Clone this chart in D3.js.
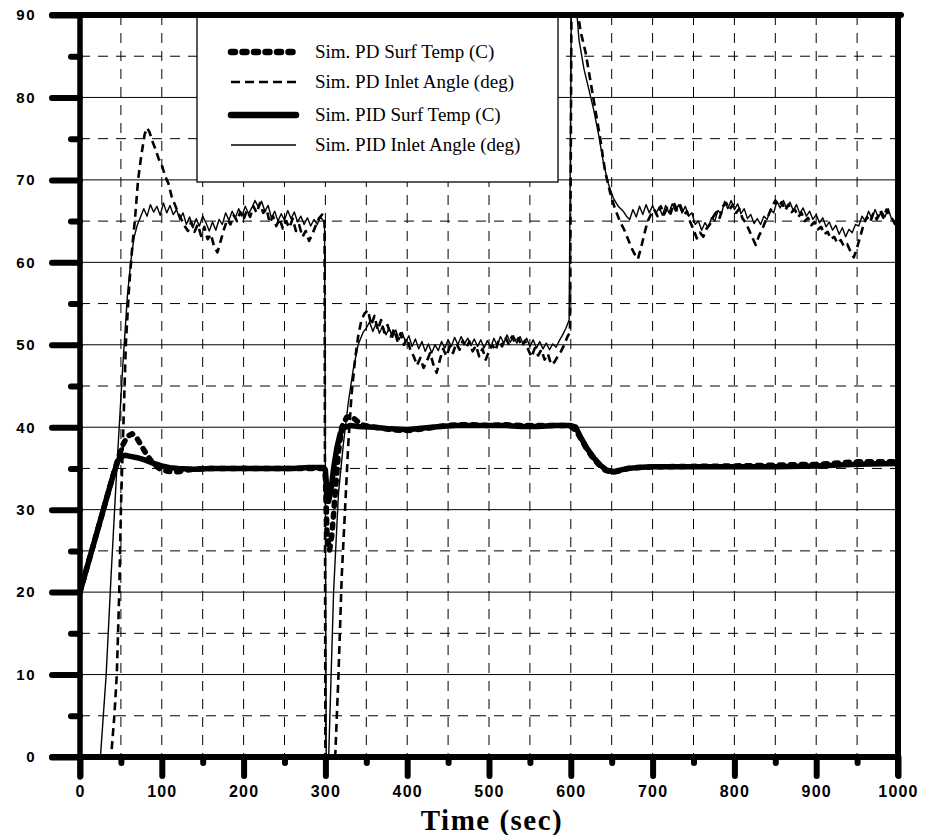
<!DOCTYPE html>
<html><head><meta charset="utf-8">
<script src="https://cdn.jsdelivr.net/npm/d3@7"></script>
<style>
html,body{margin:0;padding:0;background:#fff;}
svg{display:block;}
</style></head>
<body>
<svg id="chart" width="940" height="835"></svg>
<script>
// ---------------- DATA ----------------
const xTicksMajor = [0,100,200,300,400,500,600,700,800,900,1000];
const xTicksMinor = [50,150,250,350,450,550,650,750,850,950];
const yTicksMajor = [0,10,20,30,40,50,60,70,80,90];
const yTicksMinor = [5,15,25,35,45,55,65,75,85];
const xTitle = "Time (sec)";
const legendLabels = ["Sim. PD Surf Temp (C)","Sim. PD Inlet Angle (deg)","Sim. PID Surf Temp (C)","Sim. PID Inlet Angle (deg)"];

// PID surface temperature (thick solid)
const pidSurfT = [0,10,20,30,40,46,50,55,60,70,80,90,100,110,120,140,160,180,200,220,240,260,280,298,300,302,304,307,310,314,318,322,330,340,360,380,400,420,440,460,480,500,520,540,560,580,600,606,612,620,628,636,644,652,660,670,680,700,750,800,850,900,950,1000];
const pidSurfV = [20,23.5,27,30.5,34,35.8,36.4,36.6,36.5,36.3,36.0,35.6,35.3,35.1,35.0,34.9,35.0,35.0,35.0,35.0,35.0,35.0,35.1,35.1,34.8,32,31,32.5,35,37.5,39.2,39.9,40.2,40.1,40.0,39.8,39.7,39.9,40.1,40.2,40.2,40.2,40.2,40.1,40.1,40.2,40.2,40.0,38.8,37.4,36.3,35.4,34.8,34.6,34.8,35.0,35.1,35.2,35.2,35.2,35.2,35.3,35.5,35.6];

// PD surface temperature (thick dashed)
const pdSurfT = [0,10,20,30,40,46,52,58,64,70,76,82,88,94,100,106,112,120,130,140,160,200,250,298,300,302,305,308,312,316,320,326,332,338,344,360,380,400,420,440,460,480,500,520,540,560,580,598,604,610,618,626,634,642,650,660,670,700,800,900,950,1000];
const pdSurfV = [20,23.5,27,30.5,34,36,37.8,38.9,39.2,38.6,37.6,36.6,35.8,35.2,34.8,34.7,34.6,34.6,34.8,34.9,35.0,35.0,35.0,35.0,34,27,25,27,32,37,40,41.2,41.3,40.8,40.3,40.0,39.7,39.6,39.8,40.1,40.3,40.3,40.2,40.3,40.2,40.2,40.2,40.2,39.8,39,37.6,36.4,35.5,34.8,34.5,34.7,35.0,35.2,35.3,35.5,35.8,35.8];

// PID inlet angle (thin solid)
const pidInletT = [0,25,32,38,45,52,58,62,66,70,74,
 78,82,86,90,94,98,102,106,110,114,118,122,126,130,134,138,142,146,150,154,158,162,166,170,174,178,182,186,190,194,198,202,206,210,214,218,222,226,230,234,238,242,246,250,254,258,262,266,270,274,278,282,286,290,294,298,
 299,301,304,310,316,322,328,334,340,346,
 350,354,358,362,366,370,374,378,382,386,390,394,398,402,406,410,414,418,422,426,430,434,438,442,446,450,454,458,462,466,470,474,478,482,486,490,494,498,502,506,510,514,518,522,526,530,534,538,542,546,550,554,558,562,566,570,574,578,582,586,590,594,598,
 601,606,610,616,622,628,634,640,646,652,658,664,668,
 672,676,680,684,688,692,696,700,704,708,712,716,720,724,728,732,736,740,744,748,752,756,760,764,768,772,776,780,784,788,792,796,800,804,808,812,816,820,824,828,832,836,840,844,848,852,856,860,864,868,872,876,880,884,888,892,896,900,904,908,912,916,920,924,928,932,936,940,944,948,952,956,960,964,968,972,976,980,984,988,992,996,1000];
const pidInletV = [0,0,10,22,35,47,56,60,63,64.5,65.5,
 66.5,65.6,67.0,66.1,66.8,65.7,67.2,66.0,66.9,65.8,66.4,65.2,66.0,64.6,65.5,64.2,65.3,64.4,65.6,64.8,63.8,64.9,63.9,65.2,64.6,66.0,65.1,66.2,65.4,66.5,65.6,66.8,65.9,66.6,67.5,66.7,67.4,66.2,66.9,65.4,66.2,65.0,65.9,65.1,66.3,65.3,66.1,64.9,65.6,64.6,65.4,64.4,65.2,64.6,65.5,65.0,
 64.5,0,0,20,32,38,43,47,50,51.5,
 52.0,52.8,51.6,52.6,51.4,52.3,51.2,52.0,50.9,51.8,50.6,51.5,50.3,51.1,49.8,50.7,49.5,50.4,49.2,50.1,49.0,50.0,49.3,50.4,49.6,50.6,49.8,50.9,50.0,51.0,50.1,50.8,49.9,50.7,49.8,50.6,49.6,50.5,49.7,50.8,49.9,51.0,50.2,51.2,50.3,51.1,50.2,51.0,50.0,50.8,49.8,50.6,49.6,50.4,49.5,50.2,49.4,50.1,49.7,50.5,51.2,52.0,53.0,
 95,92,87,83.5,81,78.5,75.5,72,69.5,67.8,66.8,66.2,65.6,
 65.2,66.4,65.5,66.8,65.8,67.0,66.0,66.9,65.9,66.7,65.7,66.9,66.0,67.1,66.2,67.0,66.0,66.8,65.6,66.0,64.6,65.0,63.9,64.8,64.2,65.4,65.0,66.3,65.8,67.4,66.5,67.5,66.4,67.1,65.9,66.5,65.3,65.8,64.7,65.3,64.6,65.6,65.2,66.4,66.0,67.4,66.6,67.5,66.5,67.3,66.3,67.0,65.9,66.6,65.6,66.2,65.2,65.8,64.8,65.4,64.3,64.9,63.9,64.5,63.4,64.2,63.1,64.0,63.6,64.6,64.4,65.6,65.0,66.2,65.3,66.4,65.4,66.2,65.5,66.5,65.3,65.0,64.0];

// PD inlet angle (thin dashed)
const pdInletT = [0,38,42,45,48,50,53,56,60,64,67,71,75,79,82,85,88,92,96,100,104,108,112,116,120,124,128,132,136,140,144,148,152,156,160,164,168,172,176,180,184,188,192,196,200,204,208,212,216,220,224,228,232,236,240,244,248,252,256,260,264,268,272,276,280,284,288,292,296,299,
 300,312,316,320,324,328,332,336,340,344,348,352,356,360,364,368,372,376,380,384,388,392,396,400,404,408,412,416,420,424,428,432,436,440,444,448,452,456,460,464,468,472,476,480,484,488,492,496,500,504,508,512,516,520,524,528,532,536,540,544,548,552,556,560,564,568,572,576,580,584,588,592,596,599,
 601,606,612,618,624,630,636,642,648,654,660,666,670,674,678,682,686,690,694,698,
 702,706,710,714,718,722,726,730,734,738,742,746,750,754,758,762,766,770,774,778,782,786,790,794,798,802,806,810,814,818,822,826,830,834,838,842,846,850,854,858,862,866,870,874,878,882,886,890,894,898,902,906,910,914,918,922,926,930,934,938,942,946,950,954,958,962,966,970,974,978,982,986,990,994,998,1000];
const pdInletV = [0,0,5,10,20,30,40,50,57,62,65,70,73,75.5,76.3,75.8,74.8,73.8,72.6,71.8,70.5,69.6,68,67,66,65.2,64.4,63.8,64.9,63.7,64.6,63.2,64.3,62.8,63.4,61.9,61.2,62.6,64.0,65.2,64.6,65.7,65.0,66.1,65.2,66.3,65.5,66.8,66.0,67.2,66.0,66.5,64.8,65.6,64.4,65.3,64.1,65.0,64.2,65.3,63.8,64.5,63.1,63.8,62.6,63.4,64.4,65.3,65.8,65,
 0,0,10,22,30,38,44,48,51,53,53.8,54.2,52.4,53.5,51.8,53.0,51.5,52.4,51.0,51.9,50.5,51.4,50.0,50.8,49.3,48.6,47.5,48.4,47.2,48.0,49.0,47.6,46.6,48.2,49.5,48.6,49.8,49.0,50.2,49.4,50.5,49.6,50.4,49.2,49.9,48.6,49.5,48.2,49.2,50.0,49.3,50.6,49.8,50.9,50.1,51.0,50.2,50.8,49.8,50.5,49.4,48.5,49.6,48.7,49.4,48.2,48.9,47.6,47.9,48.6,49.2,50.0,51.0,51.5,
 95,92,88,85.5,82,78.5,75,71,68.5,66.5,65,63.8,62.8,61.8,61.0,60.4,61.8,63.5,65.0,65.8,
 66.4,65.6,66.8,65.8,66.6,65.9,67.2,66.3,66.9,65.7,66.2,64.9,64.0,62.9,63.6,63.1,64.1,64.6,65.5,66.1,65.4,66.8,67.2,66.4,67.0,66.0,66.5,65.3,64.8,63.9,63.0,62.1,63.2,64.0,65.0,65.8,66.7,67.5,66.8,67.3,66.3,67.0,66.1,66.4,65.5,66.0,65.0,65.4,64.5,64.9,64.0,64.3,63.4,63.7,62.8,63.1,62.3,62.7,61.9,62.2,61.3,60.6,61.8,63.2,64.6,65.5,64.9,66.0,65.2,66.3,65.4,66.4,65.6,65.1,64.3,64.0];

// ---------------- DRAW ----------------
const svg = d3.select("#chart");
const L = 80, R = 898, T = 15, B = 757;
const x = d3.scaleLinear().domain([0,1000]).range([L,R]);
const y = d3.scaleLinear().domain([0,90]).range([B,T]);

// grid
const grid = svg.append("g");
grid.selectAll(".hmaj").data(yTicksMajor.filter(v=>v>0&&v<90)).join("line")
  .attr("x1",L).attr("x2",R).attr("y1",d=>y(d)).attr("y2",d=>y(d))
  .attr("stroke","#000").attr("stroke-width",1);
grid.selectAll(".hmin").data(yTicksMinor).join("line")
  .attr("x1",L).attr("x2",R).attr("y1",d=>y(d)).attr("y2",d=>y(d))
  .attr("stroke","#000").attr("stroke-width",1).attr("stroke-dasharray","10,8");
grid.selectAll(".v").data(xTicksMajor.concat(xTicksMinor).filter(v=>v>0&&v<1000)).join("line")
  .attr("x1",d=>x(d)).attr("x2",d=>x(d)).attr("y1",T).attr("y2",B)
  .attr("stroke","#000").attr("stroke-width",1).attr("stroke-dasharray","10,8");

// legend box (white, covers grid)
const lg = svg.append("g");
lg.append("rect").attr("x",197).attr("y",T).attr("width",361).attr("height",167)
  .attr("fill","#fff").attr("stroke","#000").attr("stroke-width",1.3);

// series
const clip = svg.append("clipPath").attr("id","plotclip").append("rect")
  .attr("x",L).attr("y",T).attr("width",R-L).attr("height",B-T);
const line = d3.line().x(d=>x(d[0])).y(d=>y(d[1]));
const styles = [
  {t:pdSurfT, v:pdSurfV, w:5.5, dash:"4,7", cap:"round"},
  {t:pdInletT, v:pdInletV, w:2.6, dash:"8,5", cap:"butt"},
  {t:pidSurfT, v:pidSurfV, w:5.5, dash:null, cap:"round"},
  {t:pidInletT, v:pidInletV, w:1.4, dash:null, cap:"butt"}
];
const sg = svg.append("g").attr("clip-path","url(#plotclip)");
[1,3,2,0].forEach(i=>{
  const s = styles[i];
  const pts = s.t.map((t,k)=>[t,s.v[k]]);
  sg.append("path").attr("d",line(pts)).attr("fill","none").attr("stroke","#000")
    .attr("stroke-width",s.w).attr("stroke-linejoin","round").attr("stroke-linecap",s.cap)
    .attr("stroke-dasharray",s.dash);
});

// legend entries
const rowsY = [52,82,115,145];
legendLabels.forEach((lab,i)=>{
  const s = styles[i];
  lg.append("line").attr("x1",231).attr("x2",296).attr("y1",rowsY[i]).attr("y2",rowsY[i])
    .attr("stroke","#000").attr("stroke-width",i===0?6.5:(i===2?6.5:(i===1?2.6:1.3)))
    .attr("stroke-linecap",s.cap).attr("stroke-dasharray",i===0?"4,7.5":(i===1?"9,5":null));
  lg.append("text").attr("x",315).attr("y",rowsY[i]+6).text(lab)
    .attr("font-family","'Liberation Serif','Times New Roman',serif").attr("font-size",19).attr("fill","#000");
});

// axes (ticks + labels via d3 axes)
function styleAxis(g){
  g.select(".domain").remove();
  g.selectAll(".tick line").attr("stroke","#000").attr("stroke-width",6).attr("stroke-linecap","round");
  g.selectAll("text").attr("fill","#000").attr("font-family","'Liberation Sans',Arial,sans-serif").attr("font-weight","bold");
}
const xMaj = svg.append("g").attr("transform",`translate(0,${B})`)
  .call(d3.axisBottom(x).tickValues(xTicksMajor).tickSize(19).tickPadding(10).tickFormat(d3.format("d")));
styleAxis(xMaj);
xMaj.selectAll("text").attr("font-size",16).attr("letter-spacing",1.2);
const xMin = svg.append("g").attr("transform",`translate(0,${B})`)
  .call(d3.axisBottom(x).tickValues(xTicksMinor).tickSize(6).tickFormat(""));
styleAxis(xMin);
const yMaj = svg.append("g").attr("transform",`translate(${L},0)`)
  .call(d3.axisLeft(y).tickValues(yTicksMajor).tickSize(28).tickPadding(16).tickFormat(d3.format("d")));
styleAxis(yMaj);
yMaj.selectAll("text").attr("font-size",15).attr("letter-spacing",1.5);
const yMin = svg.append("g").attr("transform",`translate(${L},0)`)
  .call(d3.axisLeft(y).tickValues(yTicksMinor).tickSize(9).tickFormat(""));
styleAxis(yMin);

// frame
const fr = svg.append("g").attr("stroke","#000").attr("stroke-linecap","round");
fr.append("line").attr("x1",L).attr("x2",L).attr("y1",T).attr("y2",B+20).attr("stroke-width",5.5);
fr.append("line").attr("x1",52).attr("x2",R).attr("y1",B).attr("y2",B).attr("stroke-width",6);
fr.append("line").attr("x1",52).attr("x2",R+3).attr("y1",T).attr("y2",T).attr("stroke-width",6);
fr.append("line").attr("x1",R).attr("x2",R).attr("y1",T).attr("y2",B+18).attr("stroke-width",6);

// x title
svg.append("text").attr("x",492).attr("y",830).attr("text-anchor","middle")
  .attr("font-family","'Liberation Serif','Times New Roman',serif").attr("font-weight","bold")
  .attr("font-size",29).attr("letter-spacing",1.5).text(xTitle);
</script>
</body></html>
